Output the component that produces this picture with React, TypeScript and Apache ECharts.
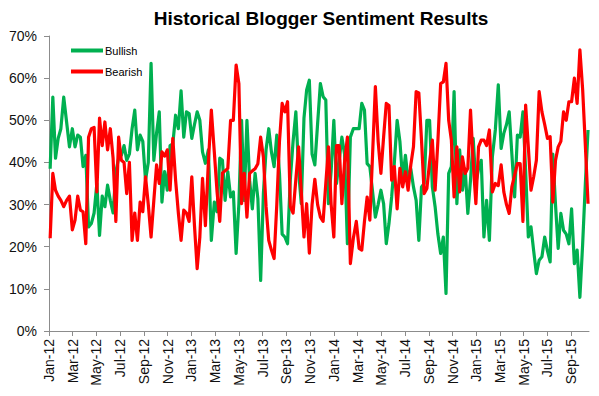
import React, { useEffect, useRef } from "react";
import * as echarts from "echarts";

const chartTitle = "Historical Blogger Sentiment Results";
const seriesNames = ["Bullish", "Bearish"];
const monthNames = ["Jan", "Feb", "Mar", "Apr", "May", "Jun", "Jul", "Aug", "Sep", "Oct", "Nov", "Dec"];
// first weekly reading: 4 Jan 2012, then one reading per week
const firstWeek = { year: 2012, month: 0, day: 4 };
const xTickMonths = [0, 2, 4, 6, 8, 10, 12, 14, 16, 18, 20, 22, 24, 26, 28, 30, 32, 34, 36, 38, 40, 42, 44];

const bullish = [
  38.5, 55.5, 41, 45.7, 48, 55.5, 49.6, 43.7, 48, 43.7,
  46.5, 46, 39, 41.7, 24.7, 25.5, 28, 35, 22.7, 32,
  29.5, 34.6, 31, 28, 37.8, 41, 41.7, 44, 40.5, 42,
  48, 52.4, 43, 46.5, 45, 35.8, 40, 63.5, 40.5, 47,
  52, 30.6, 37.8, 33.4, 44, 44.4, 51.2, 48, 57, 46,
  52, 51.6, 45.7, 49, 52, 50, 42.5, 39.8, 43, 21.5,
  30.6, 28.3, 41, 40.5, 31, 37.8, 31.8, 33, 18.4, 30.2,
  50, 31, 50, 35.8, 29, 37.4, 31.4, 12, 32.6, 43,
  48, 42.5, 39, 46.5, 37.4, 23, 22.3, 20.7, 36, 45,
  52, 37.8, 30.2, 50.5, 57.2, 59.5, 42, 39.4, 49.2, 58.7,
  55.6, 54.8, 30.2, 38, 50, 35, 40.5, 46, 42, 20.7,
  46, 48, 48, 48, 54, 52.4, 39.7, 39, 33, 27,
  30, 33.4, 30.2, 20.7, 25.5, 31.8, 40, 50, 45, 35.8,
  41.7, 35.8, 38.5, 34.2, 31, 21.5, 34.2, 35, 50, 50,
  34.2, 29.5, 23, 18.4, 22.3, 8.9, 37.4, 39, 56.8, 30.2,
  43, 33.4, 38.5, 27.9, 35.8, 45.7, 35, 38.5, 40.5, 22.3,
  31, 21.5, 41.3, 47.7, 58.4, 43.3, 46.9, 49, 52, 42,
  31.8, 46.5, 46, 52, 38, 22.3, 24.7, 19, 13.6, 16.8,
  17.6, 22.3, 19, 16.4, 42, 30, 19.6, 27.9, 23.9, 23,
  20.7, 29, 16, 19.2, 8, 20.7, 35, 47.7,
];

const bearish = [
  22, 37.4, 33.4, 32, 31, 29.5, 31, 32, 24, 26.3,
  32, 28.7, 28.3, 20.7, 46, 48, 48.3, 33, 50.5, 44,
  49.6, 43, 48, 41, 26, 46, 40.5, 40, 32.6, 40,
  21.5, 28, 21.5, 30.6, 28.3, 36.6, 30, 22.3, 31, 39.4,
  35, 42.5, 41.5, 43, 33.4, 45.7, 35.8, 28, 21.5, 28.7,
  28, 26, 36.6, 25, 14.8, 22.3, 36.2, 25, 40, 52.4,
  42.5, 33, 26, 37.5, 38, 38.6, 50, 50, 63.1, 58.7,
  30.2, 37.4, 27, 37.4, 38, 38.5, 39.7, 46, 41.3, 29.5,
  21.5, 19.2, 17.2, 30, 45, 54, 52, 54.4, 29.5, 28,
  36, 43.7, 33, 22.3, 30.2, 18.5, 30, 36, 30, 27,
  26, 35, 43.7, 30, 22.3, 44, 44, 30.2, 40, 46,
  16, 22, 26, 19.6, 19.2, 26, 31.8, 26.3, 42, 58,
  45, 37.4, 46, 54, 53.5, 35.8, 39, 29, 38.6, 34.2,
  37.8, 33.4, 39.4, 43.7, 56.8, 56.5, 45.3, 32.6, 33.8, 40,
  45.3, 33.4, 45, 58.7, 59.1, 63.5, 50, 45.3, 31.8, 43.7,
  33, 41.3, 37.4, 38.6, 52.4, 40, 30.2, 43.7, 45.3, 45.3,
  44, 47.7, 33, 35, 34.5, 39.4, 33, 30, 27.9, 34.2,
  37, 39.7, 39.7, 26, 53.6, 43.7, 33.4, 36.6, 40.5, 56.8,
  52, 49, 45.7, 46.1, 30.6, 40.5, 43.7, 45, 52, 50,
  54.4, 54.4, 60, 54, 66.7, 57.2, 44, 30.2,
];

// position of week i in "months since Jan 2012"
function weekToMonthIndex(i: number): number {
  const d = new Date(Date.UTC(firstWeek.year, firstWeek.month, firstWeek.day + 7 * i));
  const y = d.getUTCFullYear();
  const m = d.getUTCMonth();
  const day = d.getUTCDate();
  const dim = new Date(Date.UTC(y, m + 1, 0)).getUTCDate();
  return (y - 2012) * 12 + m + (day - 1) / dim;
}

function monthLabel(v: number): string {
  const idx = Math.round(v);
  const yr = 12 + Math.floor(idx / 12);
  return monthNames[idx % 12] + "-" + yr;
}

const FONT = "'Liberation Sans', Arial, sans-serif";
const AXIS_COLOR = "#8c8c8c";

export default function App() {
  const ref = useRef<HTMLDivElement>(null);
  useEffect(() => {
    if (!ref.current) return;
    const chart = echarts.init(ref.current, undefined, { renderer: "svg" });
    chart.setOption({
      animation: false,
      backgroundColor: "#ffffff",
      title: {
        text: chartTitle,
        left: 316,
        textAlign: "center",
        top: 4,
        textStyle: { fontFamily: FONT, fontSize: 19, fontWeight: "bold", color: "#000" },
      },
      grid: { left: 49, right: 10, top: 36, bottom: 65 },
      legend: {
        orient: "vertical",
        left: 66,
        top: 40,
        icon: "rect",
        itemWidth: 32,
        itemHeight: 4,
        itemGap: 10,
        data: seriesNames,
        textStyle: { fontFamily: FONT, fontSize: 11, color: "#000", padding: [0, 0, 0, -3] },
      },
      xAxis: {
        type: "value",
        min: 0,
        max: 45.5,
        interval: 2,
        axisLine: { show: true, lineStyle: { color: AXIS_COLOR, width: 1 } },
        axisTick: { show: true, length: 5, customValues: xTickMonths, lineStyle: { color: AXIS_COLOR } },
        axisLabel: {
          customValues: xTickMonths,
          rotate: 90,
          margin: 8,
          formatter: (v: number) => monthLabel(v),
          fontFamily: FONT,
          fontSize: 14,
          color: "#111",
        },
        splitLine: { show: false },
      },
      yAxis: {
        type: "value",
        min: 0,
        max: 70,
        interval: 10,
        axisLine: { show: true, lineStyle: { color: AXIS_COLOR, width: 1 } },
        axisTick: { show: true, length: 5, lineStyle: { color: AXIS_COLOR } },
        axisLabel: {
          formatter: "{value}%",
          margin: 12,
          fontFamily: FONT,
          fontSize: 14,
          color: "#111",
        },
        splitLine: { show: false },
      },
      series: [
        {
          name: seriesNames[0],
          type: "line",
          data: bullish.map((v, i) => [weekToMonthIndex(i), v]),
          symbol: "none",
          showSymbol: false,
          lineStyle: { width: 3.2, color: "#00B050", join: "round" },
          itemStyle: { color: "#00B050" },
        },
        {
          name: seriesNames[1],
          type: "line",
          data: bearish.map((v, i) => [weekToMonthIndex(i), v]),
          symbol: "none",
          showSymbol: false,
          lineStyle: { width: 3.2, color: "#FF0000", join: "round" },
          itemStyle: { color: "#FF0000" },
        },
      ],
    });
    return () => chart.dispose();
  }, []);
  return (
    <div
      ref={ref}
      style={{ position: "fixed", left: 0, top: 0, width: 599, height: 396, background: "#fff" }}
    />
  );
}
